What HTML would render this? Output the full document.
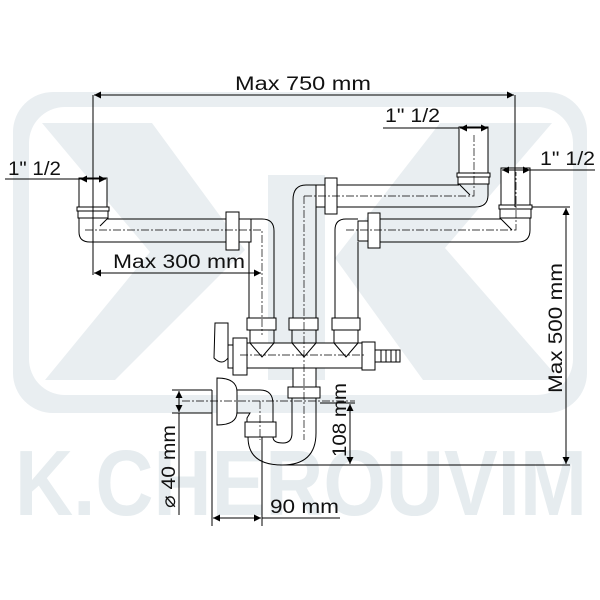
<!DOCTYPE html>
<html><head><meta charset="utf-8"><style>
html,body{margin:0;padding:0;background:#fff}
svg{display:block}
text{font-family:"Liberation Sans",sans-serif;fill:#111}
</style></head><body>
<svg width="600" height="600" viewBox="0 0 600 600" xmlns="http://www.w3.org/2000/svg">
<defs>
<marker id="a" viewBox="0 0 10 10" refX="10" refY="5" markerWidth="7" markerHeight="7" orient="auto-start-reverse"><path d="M0,0L10,5L0,10z" fill="#000"/></marker>
</defs>
<!-- watermark -->
<g fill="#e9eef1">
<path fill-rule="evenodd" d="M53,92H547A40,40 0 0 1 587,132V373A40,40 0 0 1 547,413H53A40,40 0 0 1 13,373V132A40,40 0 0 1 53,92Z M64,107H537A36,36 0 0 1 573,143V359A36,36 0 0 1 537,395H64A36,36 0 0 1 29,359V143A36,36 0 0 1 64,107Z"/>
<polygon points="42,123 152,123 245,250 115,380 45,380 150,252"/>
<rect x="268" y="175" width="57" height="205"/>
<polygon points="440,123 552,123 445,248 560,380 423,380 335,258"/>
</g>
<text x="15" y="515" font-size="93" font-weight="bold" textLength="572" lengthAdjust="spacingAndGlyphs" style="fill:#e6ecef">K.CHEROUVIM</text>

<g fill="none" stroke="#000" stroke-width="1">
<!-- left inlet + pipe -->
<rect x="79" y="178" width="28" height="29" fill="#fff"/>
<rect x="77" y="207" width="32" height="4" fill="#fff"/>
<rect x="78" y="211" width="30" height="7" fill="#fff"/>
<path d="M79,218 V232 Q79,242 90,242 H226 M107,219 H226 M107,219 L100,226"/>
<rect x="226" y="212" width="13" height="38" fill="#fff"/>
<rect x="239" y="219" width="12" height="23" fill="#fff"/>
<path d="M251,219 H262 Q274,219 274,231 V318 M249,242 V318"/>
<!-- centre -->
<path d="M293,318 V200 Q293,185 306,185 H316 M316,207 V318"/>
<rect x="316" y="185" width="9" height="22" fill="#fff"/>
<rect x="325" y="178" width="12" height="36" fill="#fff"/>
<path d="M337,185 H459 M337,207 H475 Q488,207 488,195 V184 M459,184 L470,195"/>
<rect x="459" y="127" width="29" height="46" fill="#fff"/>
<rect x="457" y="173" width="33" height="4" fill="#fff"/>
<rect x="458" y="177" width="31" height="7" fill="#fff"/>
<!-- right lower -->
<path d="M335,318 V230 Q335,219 346,219 H358 M358,318 V242"/>
<rect x="358" y="221" width="10" height="20" fill="#fff"/>
<rect x="368" y="213" width="12" height="35" fill="#fff"/>
<path d="M380,219 H501 M380,242 H518 Q530,242 530,230 V218 M501,219 L512,230"/>
<rect x="501" y="168" width="29" height="37" fill="#fff"/>
<rect x="499" y="205" width="33" height="4" fill="#fff"/>
<rect x="500" y="209" width="31" height="9" fill="#fff"/>
<!-- nuts above manifold -->
<rect x="247" y="318" width="29" height="12" fill="#fff"/>
<rect x="289" y="318" width="29" height="12" fill="#fff"/>
<rect x="332" y="318" width="28" height="12" fill="#fff"/>
<path d="M250,330 V343 M274,330 V343 M292,330 V343 M316,330 V343 M334,330 V343 M358,330 V343"/>
<!-- manifold -->
<rect x="247" y="343" width="115" height="25" fill="#fff"/>
<path d="M250,343 L262,357 L274,343 M292,343 L304,357 L316,343 M334,343 L346,357 L358,343 M274,343 H292 M316,343 H334"/>
<rect x="233" y="338" width="14" height="37" fill="#fff"/>
<rect x="228" y="345" width="5" height="23" fill="#fff"/>
<path d="M215,323 H228 V358 Q222,366 214,358 Z" fill="#fff"/>
<rect x="362" y="342" width="13" height="28" fill="#fff"/>
<rect x="375" y="350" width="25" height="12" fill="#fff"/>
<path d="M381,350 V362 M386,350 V362 M391,350 V362 M396,350 V362"/>
<!-- down pipe / trap -->
<rect x="293" y="368" width="23" height="19" fill="#fff"/>
<rect x="288" y="387" width="32" height="11" fill="#fff"/>
<path d="M292,398 V433 M316,398 V433 Q316,465 282,465 Q248,465 248,437 M273,437 Q273,443 283,443 Q292,443 292,433"/>
<path d="M178,390 H212 M178,413 H212 M212,390 V413"/>
<path d="M217,378 Q237,378 237,392 V412 Q237,425 217,425 Z" fill="#fff"/>
<path d="M237,390 H260 Q273,390 273,404 V422 M237,413 H250 L247,418 V422"/>
<rect x="245" y="422" width="31" height="15" fill="#fff"/>
</g>
<!-- centre dash-dot lines -->
<g stroke="#000" stroke-width="0.7" stroke-dasharray="8,2,2,2" fill="none">
<path d="M85,230 H262 V335 M93,180 V230 M304,196 V440 M304,196 H474 V135 M346,230 H516 V172 M240,355 H365 M182,401 H355 M260,401 V440"/>
</g>
<!-- dimension lines -->
<g stroke="#000" stroke-width="1" fill="none">
<path d="M93,95 V275 M515,95 V207"/>
<path d="M94,95 H514" marker-start="url(#a)" marker-end="url(#a)"/>
<path d="M94,273 H261" marker-start="url(#a)" marker-end="url(#a)"/>
<path d="M5,179 H80"/>
<path d="M80,179 H106" marker-start="url(#a)" marker-end="url(#a)"/>
<path d="M383,128 H459"/>
<path d="M460,128 H488" marker-start="url(#a)" marker-end="url(#a)"/>
<path d="M502,170 H530" marker-start="url(#a)" marker-end="url(#a)"/>
<path d="M530,170 H595"/>
<path d="M532,207 H570 M280,465 H570"/>
<path d="M566,208 V464" marker-start="url(#a)" marker-end="url(#a)"/>
<path d="M320,403 H355"/>
<path d="M350,404 V464" marker-start="url(#a)" marker-end="url(#a)"/>
<path d="M172,390 H180 M172,413 H180"/>
<path d="M179,391 V412" marker-start="url(#a)" marker-end="url(#a)"/>
<path d="M179,413 V515"/>
<path d="M212,413 V526 M262,437 V526 M262,518 H340"/>
<path d="M213,518 H261" marker-start="url(#a)" marker-end="url(#a)"/>
</g>
<g font-size="19">
<text x="235" y="90" textLength="136" lengthAdjust="spacingAndGlyphs">Max 750  mm</text>
<text x="113" y="268" textLength="132" lengthAdjust="spacingAndGlyphs">Max 300 mm</text>
<text x="8" y="175" textLength="53" lengthAdjust="spacingAndGlyphs">1" 1/2</text>
<text x="385" y="122" textLength="55" lengthAdjust="spacingAndGlyphs">1" 1/2</text>
<text x="540" y="165" textLength="55" lengthAdjust="spacingAndGlyphs">1" 1/2</text>
<text x="270" y="513" textLength="69" lengthAdjust="spacingAndGlyphs">90 mm</text>
<text transform="translate(562,393) rotate(-90)" textLength="130" lengthAdjust="spacingAndGlyphs">Max 500 mm</text>
<text transform="translate(346,457) rotate(-90)" textLength="74" lengthAdjust="spacingAndGlyphs">108 mm</text>
<text transform="translate(175,508) rotate(-90)" textLength="83" lengthAdjust="spacingAndGlyphs">⌀ 40 mm</text>
</g>
</svg>
</body></html>
